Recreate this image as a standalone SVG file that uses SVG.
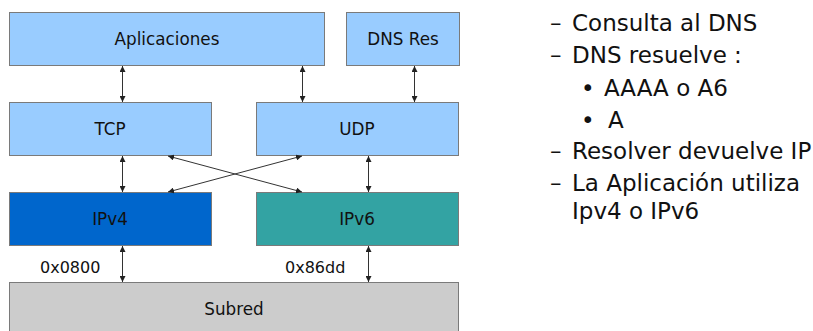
<svg xmlns="http://www.w3.org/2000/svg" width="813" height="331" viewBox="0 0 813 331">
<defs>
<marker id="ah" viewBox="0 0 6 6" refX="6" refY="3" markerWidth="6" markerHeight="6" markerUnits="userSpaceOnUse" orient="auto-start-reverse">
<path d="M0,0 L6,3 L0,6 Z" fill="#222"/>
</marker>
<style>
.box{stroke:#7a7a7a;stroke-width:1}
.lbl{font-family:"DejaVu Sans",sans-serif;font-size:16.8px;fill:#111;text-anchor:middle}
.side{font-family:"DejaVu Sans",sans-serif;font-size:23px;fill:#111}
.num{font-family:"DejaVu Sans",sans-serif;font-size:16px;fill:#111}
.con{stroke:#333;stroke-width:1;fill:none;marker-start:url(#ah);marker-end:url(#ah)}
</style>
</defs>
<rect width="813" height="331" fill="#fff"/>
<g id="aplicaciones"><rect class="box" x="9.5" y="12.5" width="315" height="53" fill="#99ccff"/><text class="lbl" x="167" y="45">Aplicaciones</text></g>
<g id="dnsres"><rect class="box" x="346.5" y="12.5" width="113" height="53" fill="#99ccff"/><text class="lbl" x="403" y="45">DNS Res</text></g>
<g id="tcp"><rect class="box" x="9.5" y="102.5" width="202" height="53" fill="#99ccff"/><text class="lbl" x="110" y="135">TCP</text></g>
<g id="udp"><rect class="box" x="256.5" y="102.5" width="202" height="53" fill="#99ccff"/><text class="lbl" x="357" y="135">UDP</text></g>
<g id="ipv4"><rect class="box" x="9.5" y="192.5" width="202" height="53" fill="#0066cc"/><text class="lbl" x="110" y="225">IPv4</text></g>
<g id="ipv6"><rect class="box" x="256.5" y="192.5" width="202" height="53" fill="#33a3a3"/><text class="lbl" x="357" y="225">IPv6</text></g>
<g id="subred"><rect class="box" x="9.5" y="282.5" width="449" height="60" fill="#cccccc"/><text class="lbl" x="234" y="315">Subred</text></g>
<g id="connectors">
<line class="con" x1="122.5" y1="66" x2="122.5" y2="102"/>
<line class="con" x1="302.5" y1="66" x2="302.5" y2="102"/>
<line class="con" x1="414.5" y1="66" x2="414.5" y2="102"/>
<line class="con" x1="122.5" y1="156" x2="122.5" y2="192"/>
<line class="con" x1="368.5" y1="156" x2="368.5" y2="192"/>
<line class="con" x1="168" y1="156" x2="302" y2="192"/>
<line class="con" x1="302" y1="156" x2="168" y2="192"/>
<line class="con" x1="122.5" y1="246" x2="122.5" y2="282"/>
<line class="con" x1="368.5" y1="246" x2="368.5" y2="282"/>
</g>
<g id="labels">
<text class="num" x="40" y="273">0x0800</text>
<text class="num" x="285" y="273">0x86dd</text>
</g>
<g id="notes">
<text class="side" x="550" y="31">–</text><text class="side" x="572" y="31">Consulta al DNS</text>
<text class="side" x="550" y="63">–</text><text class="side" x="572" y="63">DNS resuelve :</text>
<text class="side" x="581" y="96">•</text><text class="side" x="604" y="96">AAAA o A6</text>
<text class="side" x="581" y="128">•</text><text class="side" x="608" y="128">A</text>
<text class="side" x="550" y="159">–</text><text class="side" x="572" y="159">Resolver devuelve IP</text>
<text class="side" x="550" y="191">–</text><text class="side" x="572" y="191">La Aplicación utiliza</text>
<text class="side" x="572" y="219">Ipv4 o IPv6</text>
</g>
</svg>
